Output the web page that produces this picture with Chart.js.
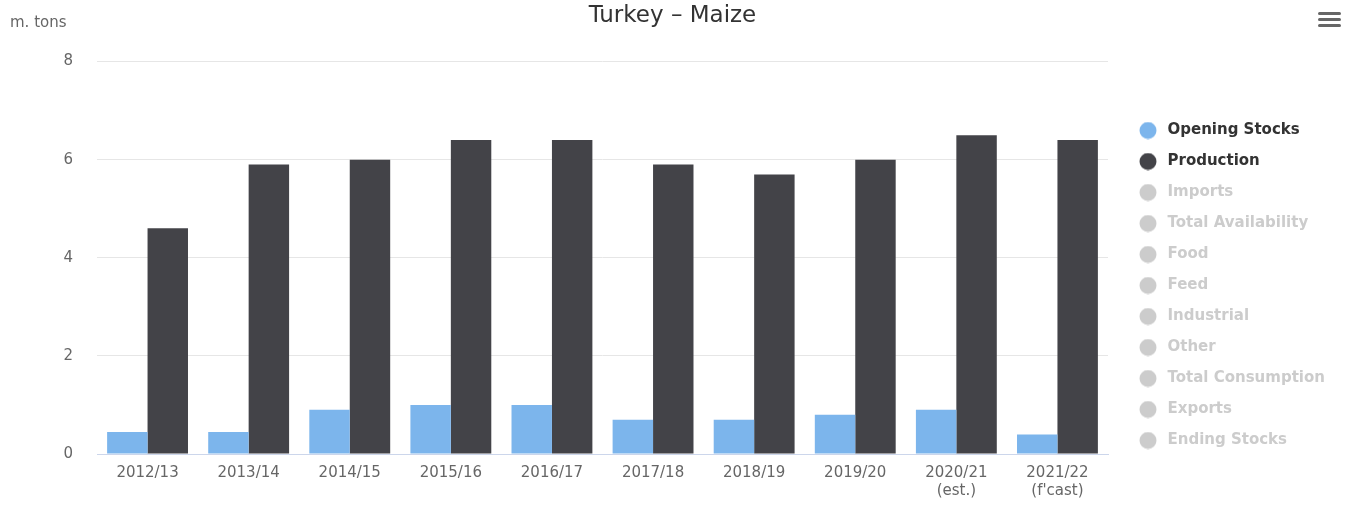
<!DOCTYPE html>
<html>
<head>
<meta charset="utf-8">
<script src="https://cdn.jsdelivr.net/npm/chart.js@4.4.0/dist/chart.umd.min.js"></script>
<style>
  body { margin: 0; background: #fff; }
  #wrap { position: relative; width: 1345px; height: 507px; }
  #menu { position: absolute; left: 1318px; top: 12px; width: 23px; }
  #menu span { display: block; height: 3px; background: #666; border-radius: 2px; margin-bottom: 3px; }
</style>
</head>
<body>
<div id="wrap">
  <canvas id="myChart" width="1345" height="507"></canvas>
  <div id="menu"><span></span><span></span><span></span></div>
</div>
<script>
// data
var years = [['2012/13'], ['2013/14'], ['2014/15'], ['2015/16'], ['2016/17'], ['2017/18'], ['2018/19'], ['2019/20'], ['2020/21', '(est.)'], ['2021/22', "(f'cast)"]];
var openingStocks = [0.45, 0.45, 0.9, 1.0, 1.0, 0.7, 0.7, 0.8, 0.9, 0.4];
var production = [4.6, 5.9, 6.0, 6.4, 6.4, 5.9, 5.7, 6.0, 6.5, 6.4];
var hiddenSeries = ['Imports', 'Total Availability', 'Food', 'Feed', 'Industrial', 'Other', 'Total Consumption', 'Exports', 'Ending Stocks'];
var yTicks = [0, 2, 4, 6, 8];

var FONT = "'DejaVu Sans', sans-serif";

// round legend marker, drawn at the left of a wider image so the text sits further right
function dot(color) {
    var c = document.createElement('canvas');
    c.width = 30; c.height = 18;
    var g = c.getContext('2d');
    g.fillStyle = color;
    g.beginPath();
    g.arc(9, 9, 8.5, 0, Math.PI * 2);
    g.fill();
    return c;
}

var datasets = [
    { label: 'Opening Stocks', data: openingStocks, backgroundColor: '#7cb5ec' },
    { label: 'Production', data: production, backgroundColor: '#434348' }
];
hiddenSeries.forEach(function (name) {
    datasets.push({ label: name, data: [], backgroundColor: '#cccccc', hidden: true });
});

var extras = {
    id: 'extras',
    beforeLayout: function (chart) {
        var lg = chart.legend;
        if (lg && !lg._patched) {
            var fit = lg.fit;
            lg.fit = function () { fit.call(this); this.width = 237; };
            lg._patched = true;
        }
    },
    afterLayout: function (chart) {
        chart.legend.left += 24;
        chart.legend.top += 32;
        chart.legend.bottom += 32;
    },
    afterDraw: function (chart) {
        var ctx = chart.ctx;
        ctx.save();
        ctx.font = '15px ' + FONT;
        ctx.fillStyle = '#666666';
        ctx.textBaseline = 'middle';
        ctx.fillText('m. tons', 10, 23);
        ctx.restore();
    }
};

var graph = new Chart(document.getElementById('myChart'), {
    type: 'bar',
    data: { labels: years, datasets: datasets },
    plugins: [extras],
    options: {
        responsive: false,
        animation: false,
        layout: { padding: 0 },
        datasets: { bar: { categoryPercentage: 0.8, barPercentage: 1.0 } },
        plugins: {
            title: {
                display: true,
                text: 'Turkey \u2013 Maize',
                color: '#333333',
                font: { family: FONT, size: 23, weight: 'normal' },
                padding: { top: 2, bottom: 32 }
            },
            tooltip: { enabled: false },
            legend: {
                position: 'right',
                align: 'center',
                onClick: null,
                labels: {
                    usePointStyle: true,
                    boxWidth: 12,
                    boxHeight: 12,
                    padding: 16,
                    font: { family: FONT, size: 15, weight: 'bold' },
                    generateLabels: function (chart) {
                        return chart.data.datasets.map(function (ds, i) {
                            var col = ds.hidden ? '#cccccc' : ds.backgroundColor;
                            return {
                                text: ds.label,
                                fillStyle: col,
                                strokeStyle: col,
                                lineWidth: 0,
                                pointStyle: dot(col),
                                fontColor: ds.hidden ? '#cccccc' : '#333333',
                                hidden: false,
                                datasetIndex: i
                            };
                        });
                    }
                }
            }
        },
        scales: {
            x: {
                grid: { drawOnChartArea: false, drawTicks: false },
                border: { display: true, color: '#ccd6eb' },
                ticks: { color: '#666666', font: { family: FONT, size: 15 }, padding: 10, maxRotation: 0 },
                afterFit: function (scale) { scale.height = 53; }
            },
            y: {
                min: 0,
                max: 8,
                afterBuildTicks: function (scale) {
                    scale.ticks = yTicks.map(function (v) { return { value: v }; });
                },
                grid: { color: '#e6e6e6', drawTicks: false },
                border: { display: false },
                ticks: { color: '#666666', font: { family: FONT, size: 15 }, padding: 24 },
                afterFit: function (scale) { scale.width = 97; }
            }
        }
    }
});
</script>
</body>
</html>
